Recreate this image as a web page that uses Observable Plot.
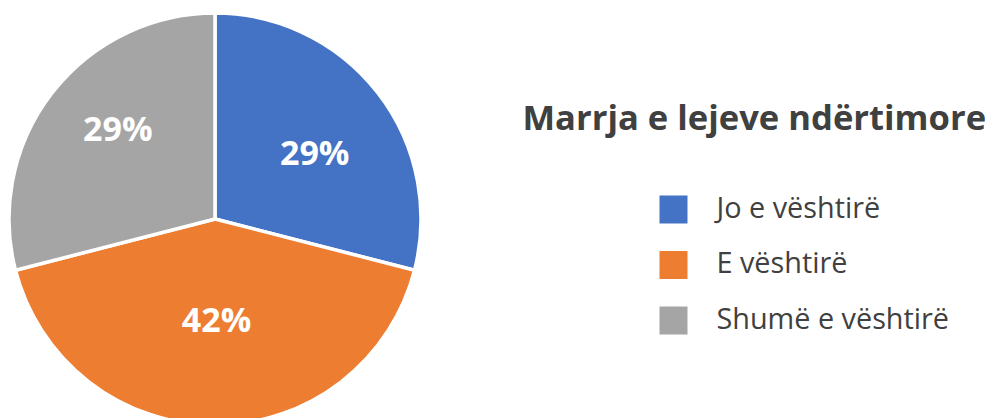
<!DOCTYPE html>
<html>
<head>
<meta charset="utf-8">
<script src="https://cdn.jsdelivr.net/npm/d3@7"></script>
<script src="https://cdn.jsdelivr.net/npm/@observablehq/plot@0.6"></script>
<style>
  html, body { margin: 0; padding: 0; background: #fff; }
  #chart svg { display: block; }
</style>
</head>
<body>
<div id="chart"></div>
<script>
const categories = ["Jo e vështirë", "E vështirë", "Shumë e vështirë"];
const values = [29, 42, 29];
const colors = ["#4472C4", "#ED7D31", "#A5A5A5"];
const title = "Marrja e lejeve ndërtimore";

// layout (not data)
const W = 989, H = 418;
const cx = 215, cy = 219, R = 206, labelR = 118;
const labelNudge = [[6, 7], [1, -16.5], [-4.5, -17]];
const fontFamily = "'Open Sans', 'Noto Sans', sans-serif";

const data = categories.map((c, i) => ({ category: c, value: values[i], color: colors[i] }));
const arcs = d3.pie().sort(null).value(d => d.value)(data);
const arcGen = d3.arc().innerRadius(0).outerRadius(R);
const labelArc = d3.arc().innerRadius(labelR).outerRadius(labelR);

const labels = arcs.map((a, i) => {
  const [dx, dy] = labelArc.centroid(a);
  return { x: cx + dx + labelNudge[i][0], y: cy + dy + labelNudge[i][1], text: a.data.value + "%" };
});

const legendRows = data.map((d, i) => ({ ...d, i }));
const legendY = i => 209 + i * 55.5;

const pieMark = (index, scales) => {
  const g = d3.create("svg:g")
    .attr("transform", `translate(${scales.x(cx)},${scales.y(cy)})`);
  g.selectAll("path")
    .data(arcs)
    .join("path")
    .attr("d", arcGen)
    .attr("fill", a => a.data.color)
    .attr("stroke", "#fff")
    .attr("stroke-width", 3.5)
    .attr("stroke-linejoin", "round");
  return g.node();
};

const chart = Plot.plot({
  width: W,
  height: H,
  margin: 0,
  style: { fontFamily, background: "#fff" },
  x: { domain: [0, W], range: [0, W], axis: null },
  y: { domain: [0, H], range: [0, H], axis: null },
  marks: [
    pieMark,
    Plot.text(labels, {
      x: "x", y: "y", text: "text",
      fill: "#fff", fontSize: 34, fontWeight: "bold",
      textAnchor: "middle", lineAnchor: "middle"
    }),
    Plot.text([title], {
      x: () => 522, y: () => 118, text: d => d,
      fill: "#404040", fontSize: 34.6, fontWeight: "bold",
      textAnchor: "start", lineAnchor: "middle"
    }),
    Plot.dot(legendRows, {
      x: () => 673, y: d => legendY(d.i),
      symbol: "square", r: 28 / Math.sqrt(Math.PI),
      fill: d => d.color, stroke: null
    }),
    Plot.text(legendRows, {
      x: () => 716, y: d => legendY(d.i) - 1, text: "category",
      fill: "#404040", fontSize: 28.8,
      textAnchor: "start", lineAnchor: "middle"
    })
  ]
});

document.getElementById("chart").appendChild(chart);
</script>
</body>
</html>
